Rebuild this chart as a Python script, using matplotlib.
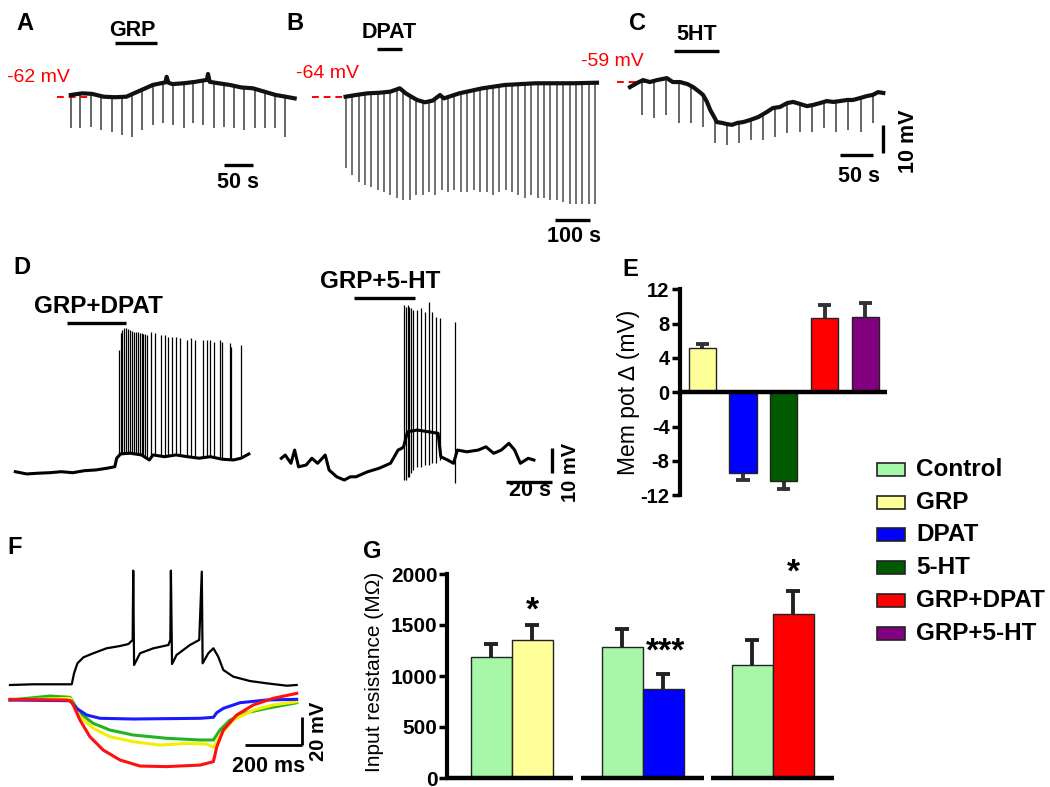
import numpy as np
import matplotlib
matplotlib.use('Agg')
import matplotlib.pyplot as plt
from matplotlib.patches import Rectangle

plt.rcParams['font.family'] = ['Liberation Sans', 'DejaVu Sans']
plt.rcParams['axes.unicode_minus'] = False

# ---------------- DATA ----------------
# Panel A (time s, membrane potential mV)
a_t = [0, 20, 37, 57, 77, 97, 110, 130, 143, 157, 165, 167, 170, 177, 197, 217, 237, 239, 242, 257, 277, 297, 317, 337, 357, 374, 390]
a_v = [-62.0, -61.4, -61.6, -62.6, -62.8, -62.6, -61.4, -59.6, -58.4, -57.8, -57.5, -55.5, -57.6, -58.1, -57.8, -57.3, -56.6, -54.5, -57.3, -57.8, -58.4, -59.3, -59.6, -60.8, -62.0, -62.6, -63.2]
a_spk_t = [0, 16.7, 35.4, 53.4, 71.3, 88.8, 106.7, 124.9, 143.4, 161.3, 178.1, 196.7, 213.5, 230.1, 248.7, 266.8, 284.8, 302.2, 320.1, 338.1, 355.5, 373.4]
a_spk_v = [-73.9, -73.9, -73.3, -74.5, -75.1, -76.3, -76.9, -74.5, -72.7, -72.1, -72.7, -73.9, -72.1, -72.7, -73.9, -73.3, -73.9, -74.5, -73.9, -73.9, -73.9, -76.9]
a_drug = [76.6, 150.0]

# Panel B
b_t = [0, 29, 62, 95, 128, 155, 172, 188, 205, 227, 249, 270, 281, 325, 391, 456, 544, 653, 719]
b_v = [-64.0, -63.4, -62.8, -62.6, -62.2, -61.0, -62.8, -64.0, -65.2, -66.0, -65.4, -63.4, -64.6, -62.8, -61.0, -59.8, -59.2, -59.2, -59.0]
b_spk_t = [0, 18, 37, 55, 73, 92, 110, 128, 146, 165, 183, 201, 220, 238, 256, 275, 293, 311, 329, 348,
           366, 384, 403, 421, 439, 458, 476, 494, 512, 531, 549, 567, 586, 604, 622, 641, 659, 677, 695, 714]
b_spk_v = [-89.5, -92.0, -94.5, -95.5, -96.3, -97.3, -98.0, -99.1, -100.2, -100.9, -100.9, -99.1, -99.1, -98.0, -99.1, -97.3, -98.0, -97.3, -98.0, -98.0,
           -97.3, -98.0, -98.0, -99.1, -98.0, -97.3, -98.0, -99.1, -100.2, -99.1, -100.2, -100.2, -100.9, -100.9, -101.6, -102.3, -102.3, -102.3, -102.3, -102.3]
b_drug = [90, 161]

# Panel C
c_t = [0, 11, 20, 30, 41, 56, 65, 76, 87, 96, 106, 111, 117, 122, 128, 132, 140, 147, 155, 163, 172, 182, 195, 208,
       217, 228, 239, 248, 258, 269, 278, 289, 299, 309, 319, 330, 339, 350, 360, 369, 377, 385]
c_v = [-60.1, -58.6, -57.6, -58.3, -57.6, -56.9, -58.3, -58.3, -59.0, -60.1, -61.9, -62.9, -65.4, -68.3, -70.8, -72.6, -72.9, -73.3, -73.6, -72.9, -72.6, -71.9, -70.8, -69.0,
       -67.6, -67.2, -65.8, -65.4, -66.1, -66.9, -66.5, -65.8, -65.1, -65.4, -65.1, -64.7, -64.7, -64.0, -63.3, -62.9, -61.9, -62.2]
c_spk_t = [18, 36, 55, 74, 92, 111, 129, 147, 166, 184, 202, 221, 239, 258, 277, 295, 313, 332, 351, 369]
c_spk_v = [-70.1, -71.3, -70.1, -73.0, -73.0, -74.3, -80.2, -80.8, -80.2, -79.0, -79.0, -77.8, -76.6, -76.0, -76.0, -74.8, -76.0, -75.4, -76.0, -73.0]
c_drug = [67, 135]

# Panel D (time s, relative mV)
dl_t = [0, 5.0, 10.0, 15.0, 20.0, 25.0, 30.0, 35.0, 40.0, 43.3, 44.1, 45.8, 49.9, 54.9, 58.3, 59.9, 64.9, 69.9, 74.9, 79.9, 84.9, 89.9, 94.9, 98.2, 101.6]
dl_v = [0, -0.9, -0.6, -0.4, 0, -0.4, 0.4, 0.7, 1.4, 2.0, 5.4, 7.1, 7.4, 6.7, 4.7, 6.7, 6.0, 6.7, 6.0, 5.4, 6.0, 5.0, 4.7, 5.4, 7.1]
dl_spk_t = [44.9, 45.8, 46.6, 47.4, 48.2, 49.1, 49.9, 50.7, 51.6, 52.4, 53.2, 54.1, 54.9, 55.7, 56.5, 57.4,
            59.1, 60.8, 63.3, 65.0, 66.6, 68.3, 69.9, 71.6, 74.9, 76.6, 78.3, 81.6, 83.2, 84.9, 86.6, 89.1, 89.9, 93.2, 94.0, 98.2]
dl_spk_v = [48.7, 55.4, 56.7, 57.4, 57.4, 57.0, 56.7, 56.4, 56.0, 56.0, 55.7, 55.4, 55.4, 55.0, 55.0, 54.7,
            56.0, 55.4, 54.7, 54.7, 54.0, 54.0, 54.0, 53.4, 52.7, 53.4, 52.7, 52.7, 52.7, 52.7, 52.0, 52.7, 52.0, 51.4, 50.0, 50.7]
dl_drug = [22.5, 48.3]

dr_t = [0, 1.7, 4.2, 5.8, 7.5, 10.8, 13.3, 15.8, 19.1, 20.8, 24.1, 27.4, 30.0, 32.5, 37.5, 42.5, 47.5, 50.8, 52.4, 53.2,
        54.9, 59.1, 64.1, 68.2, 69.4, 72.4, 74.9, 76.6, 80.7, 85.7, 89.0, 92.4, 95.7, 99.0, 101.5, 104.0, 107.4, 109.9]
dr_v = [0, 1.3, -2.0, 3.3, -3.4, -2.7, 0, -2.0, 1.3, -4.7, -7.4, -8.7, -7.4, -7.4, -5.4, -4.0, -2.0, 3.3, 4.0, 4.6,
        10.6, 11.3, 10.6, 10.0, 0.6, -0.7, -2.0, 3.3, 2.6, 3.3, 4.6, 2.0, 3.3, 6.0, 3.3, -2.0, 0, -0.7]
dr_spk_t = [53.2, 54.1, 54.9, 55.7, 56.6, 57.4, 59.1, 60.7, 62.4, 64.1, 65.7, 67.4, 69.0, 75.7]
dr_spk_top = [61.3, 60.6, 61.3, 60.6, 60.0, 59.3, 59.3, 60.0, 58.6, 62.6, 58.6, 56.6, 56.0, 54.6]
dr_spk_bot = [-8.7, -8.7, -7.4, -7.4, -6.0, -4.7, -3.4, -3.4, -2.7, -2.7, -2.0, -2.0, -0.7, -9.9]
dr_drug = [31.6, 58.2]

# Panel F (time ms, relative mV)
f_blk_t = [0, 82, 177, 218, 226, 238, 259, 294, 341, 388, 418, 433, 435, 438, 459, 506, 559, 566, 568, 572, 588, 635, 668,
           677, 680, 700, 718, 735, 753, 788, 847, 906, 977, 1012]
f_blk_v = [0, 0.5, 0.5, 0.5, 8.2, 15.3, 19.5, 22.4, 25.9, 27.5, 28.9, 31.8, 80.7, 14.1, 22.4, 25.9, 28.2, 31.8, 80.7, 14.8, 21.2, 28.2, 31.8,
           80.0, 15.3, 22.4, 25.9, 20.0, 10.6, 5.9, 2.8, 1.2, -0.5, 0]
f_blue_t = [0, 212, 235, 271, 318, 435, 671, 718, 730, 753, 812, 906, 1012]
f_blue_v = [0, -0.5, -5.9, -10.6, -12.9, -13.4, -12.9, -12.2, -8.9, -5.9, -1.9, 0, 0.5]
f_green_t = [0, 141, 212, 247, 294, 353, 435, 553, 671, 718, 741, 777, 836, 906, 1012]
f_green_v = [0, 2.8, 1.9, -9.4, -16.5, -21.2, -24.7, -27.0, -28.2, -28.2, -21.2, -14.1, -8.9, -5.9, -1.9]
f_yel_t = [0, 212, 247, 294, 353, 435, 529, 624, 694, 718, 747, 788, 859, 929, 1012]
f_yel_v = [0, 1.2, -11.8, -20.0, -25.9, -29.4, -31.8, -30.6, -31.1, -33.4, -23.5, -14.1, -7.1, -3.5, -1.2]
f_red_t = [0, 200, 218, 247, 282, 329, 388, 459, 553, 671, 718, 730, 753, 800, 859, 929, 1012]
f_red_v = [0.5, 0, -1.2, -14.1, -25.9, -35.3, -42.3, -46.6, -47.0, -45.9, -43.5, -33.0, -21.2, -10.6, -3.5, 1.2, 4.7]

# Panel E
e_labels = ['GRP', 'DPAT', '5-HT', 'GRP+DPAT', 'GRP+5-HT']
e_vals = [5.2, -9.4, -10.3, 8.7, 8.8]
e_errs = [0.4, 0.85, 1.0, 1.45, 1.6]
e_ticks = [-12, -8, -4, 0, 4, 8, 12]

# Panel G
g_groups = ['GRP', 'DPAT', 'GRP+DPAT']
g_ctrl = [1190, 1285, 1110]
g_ctrl_err = [120, 180, 245]
g_drug = [1355, 875, 1610]
g_drug_err = [147, 140, 225]
g_sig = ['*', '***', '*']
g_ticks = [0, 500, 1000, 1500, 2000]

legend_labels = ['Control', 'GRP', 'DPAT', '5-HT', 'GRP+DPAT', 'GRP+5-HT']
colors = {'Control': '#a6f7a8', 'GRP': '#ffff99', 'DPAT': '#0000ff', '5-HT': '#005a00',
          'GRP+DPAT': '#ff0000', 'GRP+5-HT': '#800080'}

# ---------------- FIGURE ----------------
W, H = 1050, 787
fig = plt.figure(figsize=(W / 100, H / 100), dpi=100)


def px_axes(x0, y0, x1, y1):
    return fig.add_axes([x0 / W, 1 - y1 / H, (x1 - x0) / W, (y1 - y0) / H])


def trace_axes(box, xref_px, xref_val, x_per_px, yref_px, yref_val, px_per_unit):
    x0, y0, x1, y1 = box
    ax = px_axes(*box)
    ax.set_xlim(xref_val + (x0 - xref_px) * x_per_px, xref_val + (x1 - xref_px) * x_per_px)
    ax.set_ylim(yref_val - (y1 - yref_px) / px_per_unit, yref_val - (y0 - yref_px) / px_per_unit)
    ax.axis('off')
    ax.patch.set_visible(False)
    return ax


def ftext(x, y, s, **kw):
    kw.setdefault('ha', 'center')
    kw.setdefault('va', 'center')
    fig.text(x / W, 1 - y / H, s, **kw)


def hbar(ax, x0, x1, y, lw=2.4):
    ax.plot([x0, x1], [y, y], color='k', lw=lw, solid_capstyle='butt', clip_on=False)


def vbar(ax, x, y0, y1, lw=2.4):
    ax.plot([x, x], [y0, y1], color='k', lw=lw, solid_capstyle='butt', clip_on=False)


dash = (0, (3.5, 2.5))
trace_c = '#111111'
spike_c = '#3c3c3c'
lab_fs = 15.5
scale_fs = 15.5

# ---- A ----
axA = trace_axes((40, 20, 300, 220), 70.8, 0, 1.742, 95, -62, 2.8)
axA.plot([-24, 37], [-62.8, -62.8], color='red', lw=1.4, ls=dash)
axA.vlines(a_spk_t, a_spk_v, np.interp(a_spk_t, a_t, a_v), color=spike_c, lw=1.1)
axA.plot(a_t, a_v, color=trace_c, lw=3.0)
hbar(axA, a_drug[0], a_drug[1], -43.5)
hbar(axA, 266.7, 316.7, -87.0)
ftext(25, 24, 'A', fontsize=17, fontweight='bold')
ftext(132, 31, 'GRP', fontsize=lab_fs, fontweight='bold')
ftext(38, 78, '-62 mV', fontsize=14, color='red')
ftext(238, 183, '50 s', fontsize=scale_fs, fontweight='bold')

# ---- B ----
axB = trace_axes((260, 20, 610, 250), 345.6, 0, 2.86, 96.7, -64, 2.8)
axB.plot([-96, -3], [-64, -64], color='red', lw=1.4, ls=dash)
axB.vlines(b_spk_t, b_spk_v, np.interp(b_spk_t, b_t, b_v), color='#4a4a4a', lw=1.1)
axB.plot(b_t, b_v, color=trace_c, lw=3.0)
hbar(axB, b_drug[0], b_drug[1], -47.1)
hbar(axB, 599, 699, -108.0)
ftext(295, 24, 'B', fontsize=17, fontweight='bold')
ftext(389, 33, 'DPAT', fontsize=lab_fs, fontweight='bold')
ftext(327, 73, '-64 mV', fontsize=14, color='red')
ftext(574, 237, '100 s', fontsize=scale_fs, fontweight='bold')

# ---- C ----
axC = trace_axes((590, 20, 930, 200), 630, 0, 1.52, 84, -59, 2.8)
axC.plot([-20, 30], [-58.2, -58.2], color='red', lw=1.4, ls=dash)
axC.vlines(c_spk_t, c_spk_v, np.interp(c_spk_t, c_t, c_v), color=spike_c, lw=1.1)
axC.plot(c_t, c_v, color=trace_c, lw=3.0)
hbar(axC, c_drug[0], c_drug[1], -47.2)
hbar(axC, 319, 369, -84.4)
vbar(axC, 384.6, -83.6, -73.6)
ftext(637, 23, 'C', fontsize=17, fontweight='bold')
ftext(697, 35, '5HT', fontsize=lab_fs, fontweight='bold')
ftext(612, 61, '-59 mV', fontsize=14, color='red')
ftext(859, 177, '50 s', fontsize=scale_fs, fontweight='bold')
ftext(908, 141, '10 mV', fontsize=scale_fs, fontweight='bold', rotation=90)

# ---- D ----
axDL = trace_axes((5, 280, 262, 520), 15.3, 0, 0.435, 471.7, 0, 2.5)
axDL.vlines(dl_spk_t, np.interp(dl_spk_t, dl_t, dl_v), dl_spk_v, color='k', lw=0.9)
axDL.plot(dl_t, dl_v, color='k', lw=2.2)
hbar(axDL, dl_drug[0], dl_drug[1], 59.6)
ftext(22, 268, 'D', fontsize=17, fontweight='bold')
ftext(98, 306, 'GRP+DPAT', fontsize=17.5, fontweight='bold')

axDR = trace_axes((270, 270, 600, 520), 281.3, 0, 0.435, 458.3, 0, 2.5)
axDR.vlines(dr_spk_t, dr_spk_bot, dr_spk_top, color='k', lw=0.9)
axDR.plot(dr_t, dr_v, color='k', lw=2.2)
hbar(axDR, dr_drug[0], dr_drug[1], 64.2)
hbar(axDR, 97.7, 117.7, -9.5)
vbar(axDR, 117.6, -5.9, 4.1)
ftext(380, 282, 'GRP+5-HT', fontsize=17.5, fontweight='bold')
ftext(530, 491, '20 s', fontsize=scale_fs, fontweight='bold')
ftext(571, 472, '10 mV', fontsize=14.5, fontweight='bold', rotation=90)

# ---- F ----
f_off = -10.6
axF = trace_axes((5, 540, 340, 787), 10, 0, 3.53, 685, 0, 1.417)
for tt, vv, cc in [(f_green_t, f_green_v, '#22b422'), (f_yel_t, f_yel_v, '#f0f000'),
                   (f_blue_t, f_blue_v, '#1a1aff'), (f_red_t, f_red_v, '#ff1010')]:
    axF.plot(tt, np.array(vv) + f_off, color=cc, lw=2.2)
axF.plot(f_blk_t, f_blk_v, color='k', lw=1.6)
hbar(axF, 829.6, 1029.6, -42.3, lw=2.0)
vbar(axF, 1029.6, -42.3, -22.3, lw=2.0)
ftext(15, 547, 'F', fontsize=17, fontweight='bold')
ftext(269, 767, '200 ms', fontsize=scale_fs, fontweight='bold')
ftext(318, 731, '20 mV', fontsize=14.5, fontweight='bold', rotation=90)

# ---- E ----
axE = px_axes(680, 289.3, 887, 495.3)
axE.set_xlim(0.456, 5.53)
axE.set_ylim(-12, 12)
ex = np.arange(1, len(e_vals) + 1)
axE.bar(ex, e_vals, width=0.67, color=[colors[k] for k in e_labels], edgecolor='#222222', lw=1.0, zorder=2)
for x, v, e in zip(ex, e_vals, e_errs):
    tip = v + e if v > 0 else v - e
    axE.plot([x, x], [v, tip], color='#333333', lw=2.8, solid_capstyle='butt', zorder=1)
    axE.plot([x - 0.16, x + 0.16], [tip, tip], color='#333333', lw=2.8, solid_capstyle='butt', zorder=1)
axE.axhline(0, color='k', lw=3.2, zorder=3)
for s in ['top', 'right', 'bottom']:
    axE.spines[s].set_visible(False)
axE.spines['left'].set_linewidth(3.0)
axE.set_xticks([])
axE.set_yticks(e_ticks)
axE.tick_params(axis='y', direction='out', length=6, width=2.5, labelsize=14.5, pad=1.5)
for lb in axE.get_yticklabels():
    lb.set_fontweight('bold')
axE.patch.set_visible(False)
ftext(629, 392, 'Mem pot \u2206 (mV)', fontsize=16.5, rotation=90)
ftext(630, 270, 'E', fontsize=17, fontweight='bold')

# ---- Legend ----
for i, lab in enumerate(legend_labels):
    yc = 469.3 + i * 32.8
    fig.add_artist(Rectangle((877 / W, 1 - (yc + 6.5) / H), 28 / W, 13 / H, transform=fig.transFigure,
                             facecolor=colors[lab], edgecolor='#222222', lw=1.2))
    ftext(916, yc, lab, fontsize=17.5, fontweight='bold', ha='left')

# ---- G ----
axG = px_axes(447, 574, 835, 778)
axG.set_xlim(-1.078, 8.385)
axG.set_ylim(0, 2000)
g_centers = np.array([0.5, 3.7, 6.87])
for i, gc in enumerate(g_centers):
    xs = [gc - 0.5, gc + 0.5]
    vals = [g_ctrl[i], g_drug[i]]
    errs = [g_ctrl_err[i], g_drug_err[i]]
    cols = [colors['Control'], colors[g_groups[i]]]
    axG.bar(xs, vals, width=1.0, color=cols, edgecolor='#222222', lw=1.0, zorder=2)
    for x, v, e in zip(xs, vals, errs):
        axG.plot([x, x], [v, v + e], color='#222222', lw=2.8, solid_capstyle='butt', zorder=1)
        axG.plot([x - 0.17, x + 0.17], [v + e, v + e], color='#222222', lw=2.8, solid_capstyle='butt', zorder=1)
    left = axG.get_xlim()[0] if i == 0 else gc - 1.5
    axG.plot([left, gc + 1.5], [0, 0], color='k', lw=3.2, solid_capstyle='butt', clip_on=False, zorder=3)
axG.text(g_centers[0] + 0.5, 1640, g_sig[0], ha='center', va='center', fontsize=24, fontweight='bold')
axG.text(g_centers[1] + 0.55, 1230, g_sig[1], ha='center', va='center', fontsize=24, fontweight='bold')
axG.text(g_centers[2] + 0.5, 2010, g_sig[2], ha='center', va='center', fontsize=24, fontweight='bold', clip_on=False)
for s in ['top', 'right', 'bottom']:
    axG.spines[s].set_visible(False)
axG.spines['left'].set_linewidth(3.0)
axG.set_xticks([])
axG.set_yticks(g_ticks)
axG.tick_params(axis='y', direction='out', length=6, width=2.5, labelsize=15, pad=1)
for lb in axG.get_yticklabels():
    lb.set_fontweight('bold')
axG.patch.set_visible(False)
ftext(374, 672, 'Input resistance (M\u03a9)', fontsize=15, rotation=90)
ftext(372, 552, 'G', fontsize=17, fontweight='bold')

fig.savefig('out.png', dpi=100)
